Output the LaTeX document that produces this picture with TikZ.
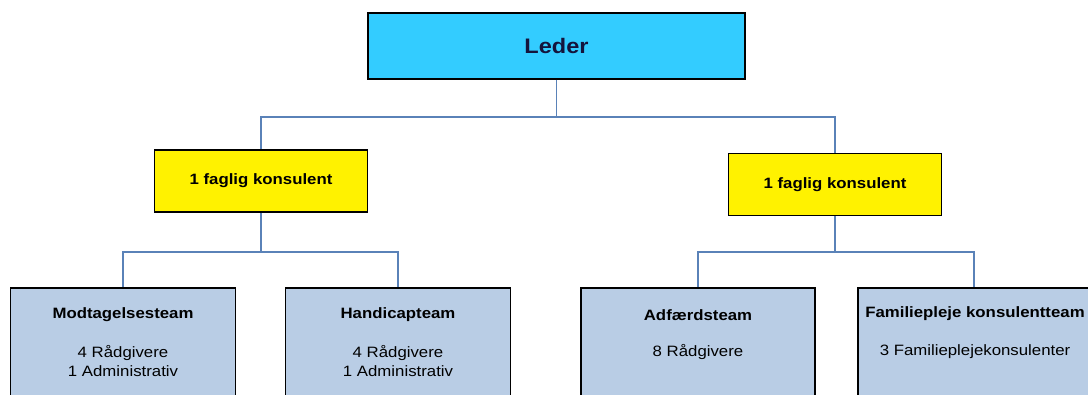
\documentclass[tikz,border=0pt]{standalone}
\usepackage{fontspec}
\setmainfont{Liberation Sans}[FakeStretch=1.12]
\definecolor{ledercyan}{HTML}{33CCFF}
\definecolor{teamblue}{HTML}{B9CDE5}
\definecolor{connblue}{HTML}{5A82B8}
\definecolor{navy}{HTML}{14143C}
\begin{document}
\begin{tikzpicture}[x=1pt,y=-1pt,
  box/.style={draw=black,line width=1.6pt,rectangle,inner sep=0pt},
  lederbox/.style={box,fill=ledercyan,minimum width=377pt,minimum height=66pt,
    font=\fontsize{21}{25}\selectfont\bfseries,text=navy},
  faglig/.style={box,fill=yellow,minimum width=213pt,minimum height=62pt,
    font=\fontsize{15}{18}\selectfont\bfseries},
  teambox/.style={box,fill=teamblue,minimum width=225pt,minimum height=140pt},
  teamtitle/.style={font=\fontsize{15}{18}\selectfont\bfseries,inner sep=0pt},
  teamtext/.style={font=\fontsize{15}{19}\selectfont,align=center,inner sep=0pt},
  conn/.style={draw=connblue,line width=1.8pt}]
\clip (0,0) rectangle (1088,394);
\fill[white] (0,0) rectangle (1088,394);
% nodes
\node[lederbox] (leder) at (556.5,46) {Leder};
\node[faglig] (f1) at (261,181) {1 faglig konsulent};
\node[faglig] (f2) at (835,184.5) {1 faglig konsulent};
\node[teambox] (t1) at (123,358) {};
\node[teambox] (t2) at (398,358) {};
\node[teambox,minimum width=234pt] (t3) at (698,358) {};
\node[teambox,minimum width=232pt] (t4) at (974,358) {};
% connectors
\draw[conn] (leder.south) -- ++(0,37) -| (f1.north);
\draw[conn] (leder.south) -- ++(0,37) -| (f2.north);
\draw[conn] (f1.south) -- ++(0,39) -| (t1.north);
\draw[conn] (f1.south) -- ++(0,39) -| (t2.north);
\draw[conn] (f2.south) -- ++(0,36) -| (t3.north);
\draw[conn] (f2.south) -- ++(0,36) -| (t4.north);
% redraw box borders above connectors
\node[teamtitle] (t1a) at (123,315) {Modtagelsesteam};
\node[teamtext] (t1b) at (123,361.5) {4 Rådgivere\\1 Administrativ};
\node[teamtitle] (t2a) at (398,315) {Handicapteam};
\node[teamtext] (t2b) at (398,361.5) {4 Rådgivere\\1 Administrativ};
\node[teamtitle] (t3a) at (698,315) {Adfærdsteam};
\node[teamtext] (t3b) at (698,352) {8 Rådgivere};
\node[teamtitle] (t4a) at (975,314) {Familiepleje konsulentteam};
\node[teamtext] (t4b) at (975,352) {3 Familieplejekonsulenter};
\end{tikzpicture}
\end{document}
